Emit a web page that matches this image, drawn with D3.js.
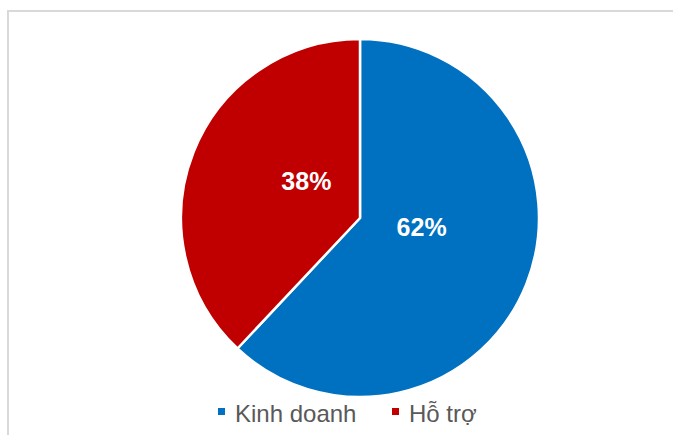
<!DOCTYPE html>
<html>
<head>
<meta charset="utf-8">
<script src="https://cdn.jsdelivr.net/npm/d3@7"></script>
<style>
  body { margin: 0; background: #fff; }
  svg { display: block; font-family: Arial, "Liberation Sans", sans-serif; }
</style>
</head>
<body>
<script>
const categories = ['Kinh doanh', 'Hỗ trợ']
const shares = [62, 38]
const colors = ['#0070C0', '#C00000']

const width = 673
const height = 435
const cx = 360
const cy = 218
const radius = 179

const svg = d3.select('body').append('svg')
  .attr('width', width)
  .attr('height', height)

// chart frame, right and bottom run off the picture
svg.append('rect')
  .attr('x', 8).attr('y', 11)
  .attr('width', 720).attr('height', 500)
  .attr('fill', 'none')
  .attr('stroke', '#d9d9d9')
  .attr('stroke-width', 2)

const data = categories.map((c, i) => ({ name: c, value: shares[i], color: colors[i] }))

const pie = d3.pie().sort(null).value(d => d.value)
const arc = d3.arc().innerRadius(0).outerRadius(radius)
const labelArc = d3.arc().innerRadius(62).outerRadius(62)

const g = svg.append('g').attr('transform', `translate(${cx},${cy})`)

g.selectAll('path')
  .data(pie(data))
  .enter()
  .append('path')
  .attr('d', arc)
  .attr('fill', d => d.data.color)
  .attr('stroke', '#fff')
  .attr('stroke-width', 2.5)
  .attr('stroke-linejoin', 'round')

g.selectAll('text.lbl')
  .data(pie(data))
  .enter()
  .append('text')
  .attr('class', 'lbl')
  .attr('x', d => labelArc.centroid(d)[0] + 4)
  .attr('y', d => labelArc.centroid(d)[1] - 5)
  .attr('text-anchor', 'middle')
  .attr('fill', '#fff')
  .attr('font-weight', 'bold')
  .attr('font-size', 25)
  .text(d => d.data.value + '%')

// legend
const legendX = [218, 392]
const legend = svg.append('g')
  .selectAll('g')
  .data(data)
  .enter()
  .append('g')
  .attr('transform', (d, i) => `translate(${legendX[i]},408)`)

legend.append('rect')
  .attr('width', 7).attr('height', 7)
  .attr('fill', d => d.color)

legend.append('text')
  .attr('x', 17)
  .attr('y', 14)
  .attr('fill', '#595959')
  .attr('font-size', 24)
  .text(d => d.name)
</script>
</body>
</html>
